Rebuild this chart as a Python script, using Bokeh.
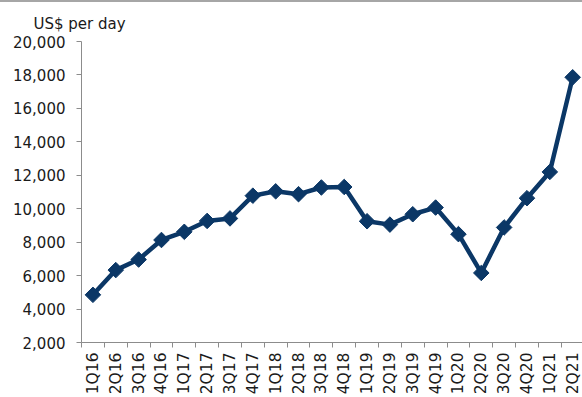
import math
from bokeh.plotting import figure
from bokeh.models import FixedTicker, Range1d, NumeralTickFormatter, Title
from bokeh.embed import file_html
from bokeh.resources import INLINE

quarters = ["1Q16", "2Q16", "3Q16", "4Q16", "1Q17", "2Q17", "3Q17", "4Q17",
            "1Q18", "2Q18", "3Q18", "4Q18", "1Q19", "2Q19", "3Q19", "4Q19",
            "1Q20", "2Q20", "3Q20", "4Q20", "1Q21", "2Q21"]
rates = [4850, 6330, 6960, 8130, 8620, 9270, 9420, 10780,
         11040, 10870, 11270, 11300, 9250, 9050, 9670, 10070,
         8480, 6160, 8880, 10630, 12200, 17860]
y_ticks = [2000, 4000, 6000, 8000, 10000, 12000, 14000, 16000, 18000, 20000]
y_label = "US$ per day"

navy = "#0b3766"
grey = "#8c8c8c"
font = "DejaVu Sans"

xs = list(range(len(quarters)))

p = figure(width=582, height=395, output_backend="svg", toolbar_location=None,
           x_range=Range1d(-0.5, 21.43), y_range=Range1d(2000, 20000),
           min_border_left=81, min_border_right=0, min_border_top=39,
           min_border_bottom=53)
p.styles = {"border-top": "2px solid #a6a6a6"}
p.outline_line_color = None
p.xgrid.visible = False
p.ygrid.visible = False

t = Title(text=y_label, align="left", offset=-48, text_font=font,
          text_font_size="15px", text_font_style="normal", text_color="#1a1a1a",
          standoff=17)
p.add_layout(t, "above")

p.line(xs, rates, line_color=navy, line_width=4.5, line_join="round")
p.scatter(xs, rates, marker="square", angle=math.pi / 4, size=11,
          fill_color=navy, line_color=navy)

# x axis: labels at centres, ticks at boundaries
xa = p.xaxis[0]
xa.ticker = FixedTicker(ticks=xs, minor_ticks=[i - 0.5 for i in range(len(quarters) + 1)])
xa.major_label_overrides = {i: q for i, q in enumerate(quarters)}
xa.major_tick_out = 0
xa.major_tick_in = 0
xa.minor_tick_out = 5
xa.minor_tick_in = 0
xa.minor_tick_line_color = grey
xa.axis_line_color = grey
xa.major_label_orientation = math.pi / 2
xa.major_label_text_font = font
xa.major_label_text_font_size = "15.5px"
xa.major_label_text_color = "#1a1a1a"
xa.major_label_standoff = 5

ya = p.yaxis[0]
ya.ticker = FixedTicker(ticks=y_ticks)
ya.formatter = NumeralTickFormatter(format="0,0")
ya.minor_tick_line_color = None
ya.major_tick_out = 5
ya.major_tick_in = 0
ya.major_tick_line_color = grey
ya.axis_line_color = grey
ya.major_label_text_font = font
ya.major_label_text_font_size = "15px"
ya.major_label_text_color = "#1a1a1a"
ya.major_label_standoff = 11

open("out.html", "w").write(file_html(p, INLINE))
